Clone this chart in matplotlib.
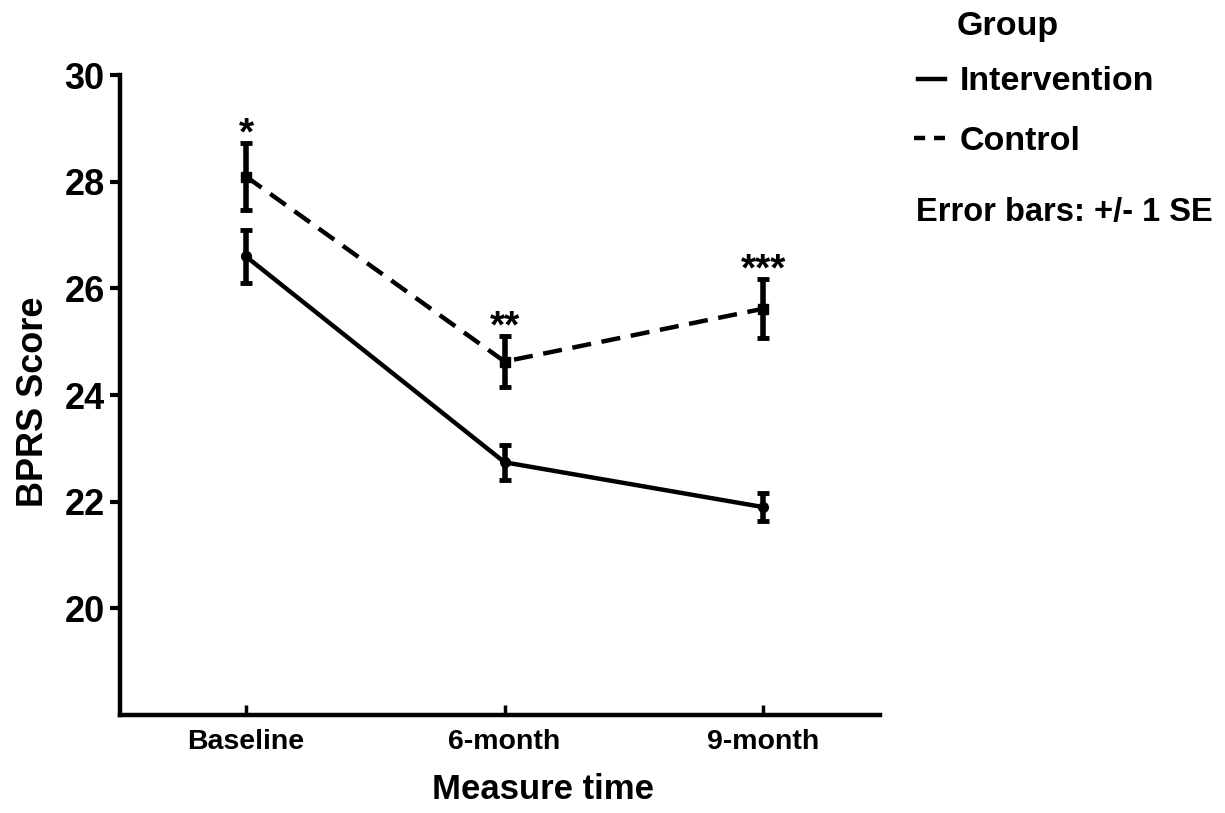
import matplotlib.pyplot as plt
from matplotlib.lines import Line2D

plt.rcParams['font.family'] = ['Liberation Sans', 'DejaVu Sans']
plt.rcParams['font.weight'] = 'bold'

# data
times = ['Baseline', '6-month', '9-month']
intervention_mean = [26.6, 22.74, 21.9]
intervention_se = [0.49, 0.33, 0.27]
control_mean = [28.1, 24.63, 25.62]
control_se = [0.62, 0.47, 0.55]
stars = ['*', '**', '***']

fig = plt.figure(figsize=(12.25, 8.13), dpi=100)
ax = fig.add_axes([0.098, 0.1205, 0.62, 0.787])

x = list(range(len(times)))

ax.errorbar(x, intervention_mean, yerr=intervention_se, color='black', lw=3.2,
            marker='o', markersize=7, elinewidth=4, capsize=4.5, capthick=3.5)
ax.errorbar(x, control_mean, yerr=control_se, color='black', lw=3.2,
            linestyle=(0, (4.3, 2.4)), marker='s', markersize=7,
            elinewidth=4, capsize=4.5, capthick=3.5)

# significance markers above the control error bars
for xi, m, se, s in zip(x, control_mean, control_se, stars):
    ax.text(xi, m + se - 0.17, s, ha='center', va='bottom', fontsize=28, fontweight='bold')

ax.set_xlim(-0.487, 2.45)
ax.set_ylim(18, 30)
ax.set_yticks([20, 22, 24, 26, 28, 30])
ax.set_xticks(x)
ax.set_xticklabels(times)

for side in ['top', 'right']:
    ax.spines[side].set_visible(False)
for side in ['left', 'bottom']:
    ax.spines[side].set_linewidth(3.2)

ax.tick_params(axis='y', direction='out', length=7, width=3, labelsize=26, pad=4)
ax.tick_params(axis='x', direction='in', length=7, width=2.5, labelsize=20.5, pad=10)
for lab in ax.get_xticklabels() + ax.get_yticklabels():
    lab.set_fontweight('bold')

ax.set_ylabel('BPRS Score', fontsize=26, fontweight='bold')
ax.yaxis.set_label_coords(-0.091, 0.489)
ax.set_xlabel('Measure time', fontsize=25, fontweight='bold')
ax.xaxis.set_label_coords(0.557, -0.09)

# legend drawn by hand, like the original
fig.text(957 / 1225, 1 - 27 / 813, 'Group', fontsize=24.5, fontweight='bold', va='center')
fig.add_artist(Line2D([918 / 1225, 945 / 1225], [1 - 79 / 813] * 2, color='black', lw=3.2))
fig.text(960 / 1225, 1 - 82 / 813, 'Intervention', fontsize=24.5, fontweight='bold', va='center')
fig.add_artist(Line2D([914 / 1225, 945 / 1225], [1 - 138 / 813] * 2, color='black', lw=3.2,
                      linestyle=(0, (2.5, 2.0))))
fig.text(960 / 1225, 1 - 141 / 813, 'Control', fontsize=24.5, fontweight='bold', va='center')
fig.text(916 / 1225, 1 - 212 / 813, 'Error bars: +/- 1 SE', fontsize=23.5, fontweight='bold', va='center')

fig.savefig('out.png', dpi=100)
